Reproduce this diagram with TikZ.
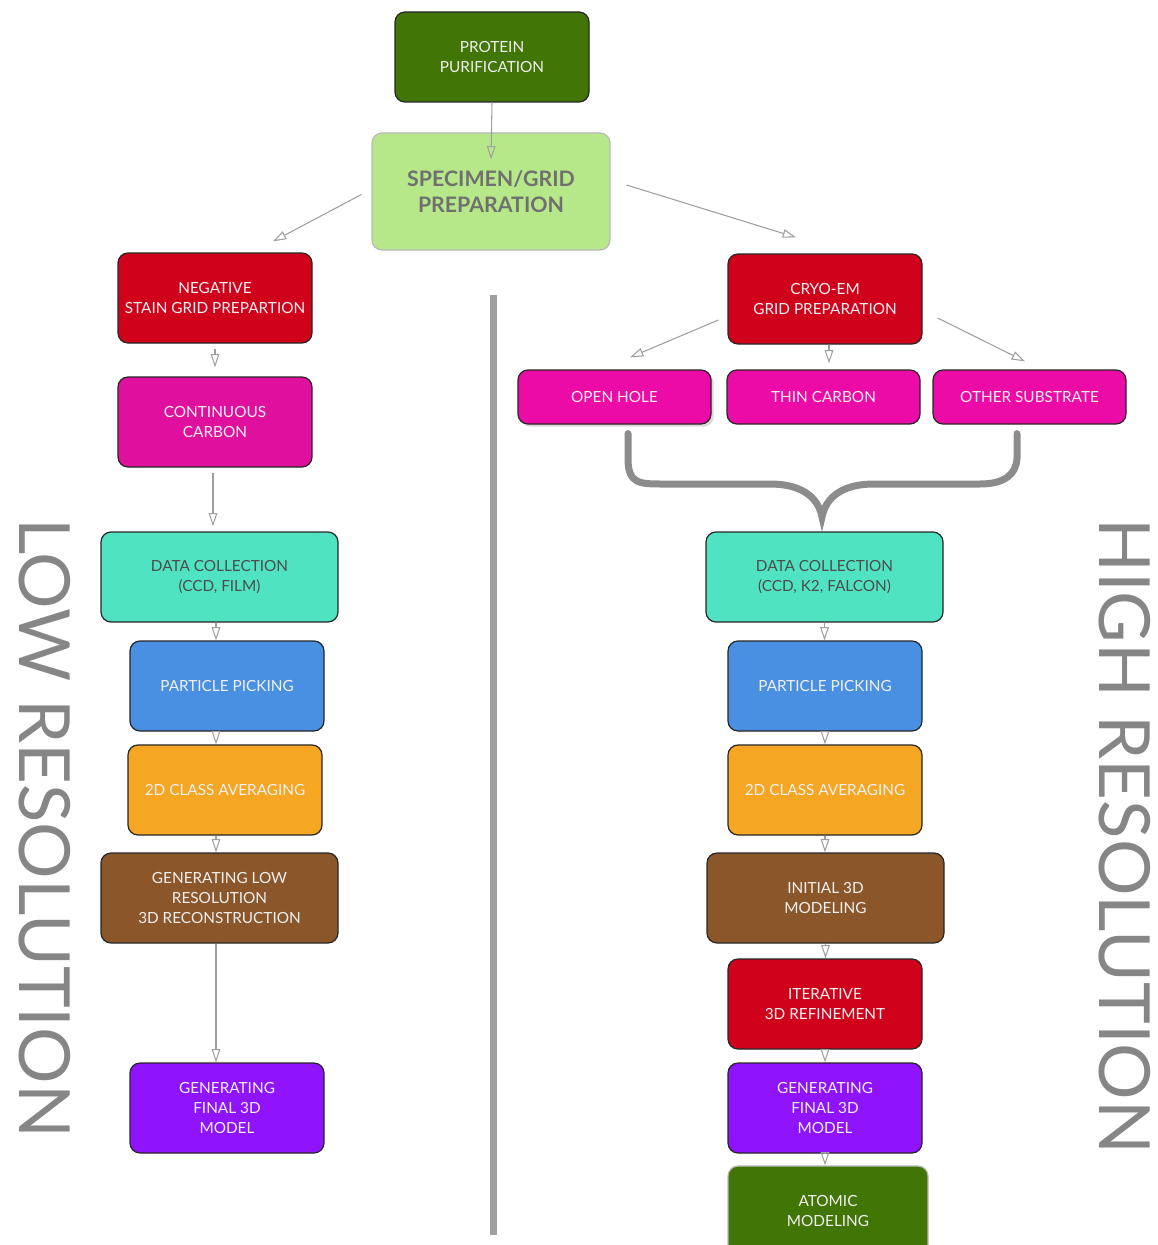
\documentclass[tikz,border=0pt]{standalone}
\usepackage{fontspec}
\setmainfont{Lato}
\usepackage{xcolor}
\usepackage{tikz}
\usetikzlibrary{calc,arrows.meta,shadows}
\definecolor{dkgreen}{HTML}{417505}
\definecolor{ltgreen}{HTML}{B6E88A}
\definecolor{stainred}{HTML}{D0021B}
\definecolor{carbpink}{HTML}{E0109E}
\definecolor{subpink}{HTML}{EC0BA6}
\definecolor{teal}{HTML}{50E3C2}
\definecolor{pickblue}{HTML}{4A90E2}
\definecolor{avgorange}{HTML}{F5A623}
\definecolor{recbrown}{HTML}{8B572A}
\definecolor{modpurple}{HTML}{9013FE}
\definecolor{txtgrey}{HTML}{707070}
\tikzset{
  box/.style={draw=black!85, line width=0.9pt, rounded corners=7.5pt, align=center,
    text=white!94!black, font=\fontsize{11.5}{15}\selectfont, inner sep=2pt},
  std/.style={box, minimum width=145.5pt, minimum height=67.5pt},
  wide/.style={box, minimum width=177.75pt, minimum height=67.5pt},
  sub/.style={box, minimum width=144.75pt, minimum height=40.5pt},
  arr/.style={draw=gray!75, line width=0.8pt, -{Triangle[open, length=10pt, width=6.5pt]}},
  brace/.style={draw=gray!90, line width=5.25pt, line cap=round},
  side/.style={text=gray!95, font=\fontsize{53}{54}\selectfont, inner sep=0pt, rotate=-90}
}

\begin{document}
\begin{tikzpicture}[x=0.75pt, y=-0.75pt]
  \useasboundingbox (0,0) rectangle (1157,1245);
  % top
  \node[std, fill=dkgreen] (prot) at (492,57) {PROTEIN\\PURIFICATION};
  \node[box, fill=ltgreen, draw=gray!55, minimum width=178.5pt, minimum height=87.75pt,
    text=txtgrey, font=\fontsize{16}{19}\selectfont\bfseries] (spec) at (491,191.5) {SPECIMEN/GRID\\PREPARATION};
  % low resolution branch
  \node[std, fill=stainred] (neg) at (215,298) {NEGATIVE\\STAIN GRID PREPARTION};
  \node[std, fill=carbpink] (cont) at (215,422) {CONTINUOUS\\CARBON};
  \node[wide, fill=teal, text=black!70] (dcl) at (219.5,577) {DATA COLLECTION\\(CCD, FILM)};
  \node[std, fill=pickblue] (ppl) at (227,686) {PARTICLE PICKING};
  \node[std, fill=avgorange] (cal) at (225,790) {2D CLASS AVERAGING};
  \node[wide, fill=recbrown] (genl) at (219.5,898) {GENERATING LOW\\RESOLUTION\\3D RECONSTRUCTION};
  \node[std, fill=modpurple] (finl) at (227,1108) {GENERATING\\FINAL 3D\\MODEL};
  % high resolution branch
  \node[std, fill=stainred] (cryo) at (825,299) {CRYO-EM\\GRID PREPARATION};
  \node[sub, fill=subpink, drop shadow={opacity=0.3, shadow xshift=2pt, shadow yshift=-2pt}] (hole) at (614.5,397) {OPEN HOLE};
  \node[sub, fill=subpink] (thin) at (823.5,397) {THIN CARBON};
  \node[sub, fill=subpink] (other) at (1029.5,397) {OTHER SUBSTRATE};
  \node[wide, fill=teal, text=black!70] (dcr) at (824.5,577) {DATA COLLECTION\\(CCD, K2, FALCON)};
  \node[std, fill=pickblue] (ppr) at (825,686) {PARTICLE PICKING};
  \node[std, fill=avgorange] (car) at (825,790) {2D CLASS AVERAGING};
  \node[wide, fill=recbrown] (init) at (825.5,898) {INITIAL 3D\\MODELING};
  \node[std, fill=stainred] (iter) at (825,1004) {ITERATIVE\\3D REFINEMENT};
  \node[std, fill=modpurple] (finr) at (825,1108) {GENERATING\\FINAL 3D\\MODEL};
  \node[box, fill=dkgreen, draw=gray!55, minimum width=150pt, minimum height=67.5pt] (atom) at (828,1211) {ATOMIC\\MODELING};
  % side labels
  \node[side] (lowlbl) at (45,828) {LOW RESOLUTION};
  \node[side] (highlbl) at (1125,836) {HIGH RESOLUTION};
  % divider
  \draw[gray!75, line width=5.25pt] (493,295) -- (493,1235);
  % arrows
  \draw[arr] (prot.south) -- ($(spec.north)+(0,27)$);
  \draw[arr] ($(spec.west)+(-10,3)$) -- ($(neg.north)+(58,-11)$);
  \draw[arr] ($(spec.east)+(16,-6.5)$) -- ($(cryo.north)+(-29,-16)$);
  \draw[arr] ($(neg.south)+(0,5)$) -- ($(cont.north)+(0,-9)$);
  \draw[arr] ($(cont.south)+(-2,5)$) -- ($(cont.south|-dcl.north)+(-2,-5)$);
  \foreach \a/\b in {dcl/ppl, ppl/cal, cal/genl, genl/finl}
    \draw[arr] (\a.south -| 216,0) -- (\b.north -| 216,0);
  \draw[arr] ($(cryo.west)+(-9,21)$) -- ($(hole.north)+(15.5,-12)$);
  \draw[arr] ($(cryo.south)+(4,0)$) -- ($(thin.north)+(5.5,-6)$);
  \draw[arr] ($(cryo.east)+(15,19)$) -- ($(other.north)+(-4.5,-8)$);
  \foreach \a/\b in {dcr/ppr, ppr/car, car/init, init/iter, iter/finr, finr/atom}
    \draw[arr] (\a.south) -- (\b.north -| \a.south);
  % brace
  \coordinate (bl) at ($(hole.south)+(13.5,9)$);
  \coordinate (br) at ($(other.south)+(-12.5,9)$);
  \coordinate (tip) at (822,517);
  \draw[brace] (bl) -- ++(0,25) .. controls ++(0,26) and (640,484) .. (665,484)
    -- (770,484) .. controls (800,484) and (818,496) .. (tip)
    .. controls (826,496) and (844,484) .. (874,484) -- (980,484)
    .. controls (1005,484) and (1016,474) .. ($(br)+(0,25)$) -- (br);
\end{tikzpicture}
\end{document}
